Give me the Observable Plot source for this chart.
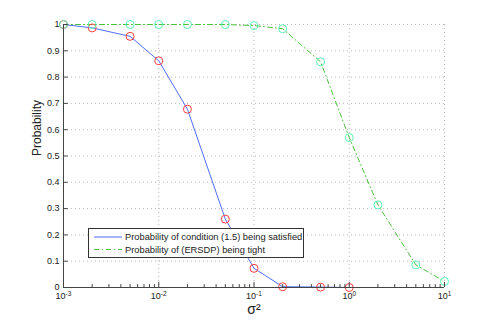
<!DOCTYPE html>
<html>
<head>
<meta charset="utf-8">
<script src="https://cdn.jsdelivr.net/npm/d3@7"></script>
<script src="https://cdn.jsdelivr.net/npm/@observablehq/plot@0.6"></script>
<style>
  html, body { margin: 0; padding: 0; background: #fff; }
  #chart svg { display: block; }
</style>
</head>
<body>
<div id="chart"></div>
<script>
// ---- data ----
const sigma2 = [0.001, 0.002, 0.005, 0.01, 0.02, 0.05, 0.1, 0.2, 0.5, 1, 2, 5, 10];
const conditionProb = [1, 0.987, 0.955, 0.862, 0.678, 0.26, 0.073, 0.003, 0.0015, 0]; // first 10 sigma2 values
const tightProb = [1, 1, 1, 1, 1, 1, 0.996, 0.984, 0.858, 0.57, 0.314, 0.086, 0.023];
const xTickExps = [-3, -2, -1, 0, 1];
const yTicks = [0, 0.1, 0.2, 0.3, 0.4, 0.5, 0.6, 0.7, 0.8, 0.9, 1];
const yTickLabels = ["0", "0.1", "0.2", "0.3", "0.4", "0.5", "0.6", "0.7", "0.8", "0.9", "1"];
const legendLabels = ["Probability of condition (1.5) being satisfied", "Probability of (ERSDP) being tight"];
const yLabel = "Probability";
const xLabel = "σ²";

const condData = conditionProb.map((p, i) => ({x: sigma2[i], y: p}));
const tightData = tightProb.map((p, i) => ({x: sigma2[i], y: p}));
const xMajor = xTickExps.map(e => Math.pow(10, e));
const xMinor = [];
for (let e = -3; e < 1; e++) for (let k = 2; k <= 9; k++) xMinor.push(k * Math.pow(10, e));

const blue = "#4f6dff", red = "#ff4040", green = "#4cbf3c", cyan = "#5cf2b4";
const axisColor = "#444", gridColor = "#b8b8b8";

const chart = Plot.plot({
  width: 491,
  height: 324,
  marginLeft: 63,
  marginRight: 47,
  marginTop: 24,
  marginBottom: 37,
  style: {fontFamily: "'Liberation Sans', Arial, Helvetica, sans-serif", fontSize: "9px", background: "#fff", color: "#222"},
  x: {type: "log", domain: [1e-3, 10], axis: null},
  y: {domain: [0, 1], axis: null},
  marks: [
    // dotted grid
    Plot.ruleX(xMajor, {stroke: gridColor, strokeDasharray: "1,3", strokeWidth: 1}),
    Plot.ruleY(yTicks, {stroke: gridColor, strokeDasharray: "1,3", strokeWidth: 1}),
    // data lines
    Plot.line(tightData, {x: "x", y: "y", stroke: green, strokeWidth: 1, strokeDasharray: "5,3,1,3"}),
    Plot.line(condData, {x: "x", y: "y", stroke: blue, strokeWidth: 1}),
    Plot.dot(condData, {x: "x", y: "y", r: 4, stroke: red, strokeWidth: 1, fill: "none"}),
    Plot.dot(tightData, {x: "x", y: "y", r: 4, stroke: cyan, strokeWidth: 1, fill: "none"}),
    // axis lines
    Plot.ruleY([0], {stroke: axisColor, strokeWidth: 1}),
    Plot.ruleX([1e-3], {stroke: axisColor, strokeWidth: 1}),
    // inward ticks
    Plot.ruleX(xMajor, {y1: 0, y2: 0.019, stroke: axisColor, strokeWidth: 1}),
    Plot.ruleX(xMinor, {y1: 0, y2: 0.011, stroke: axisColor, strokeWidth: 1}),
    Plot.ruleY(yTicks, {x1: 1e-3, x2: 1.12e-3, stroke: axisColor, strokeWidth: 1}),
    // tick labels
    Plot.axisX({ticks: xMajor, tickSize: 0, tickPadding: 5, tickFormat: d => "10|" + Math.round(Math.log10(d)), fontSize: 9, label: null}),
    Plot.axisY({ticks: yTicks, tickSize: 0, tickPadding: 4, tickFormat: d => yTickLabels[Math.round(d * 10)], fontSize: 9, label: null}),
    // axis titles
    Plot.text([yLabel], {frameAnchor: "left", rotate: -90, dx: -26, fontSize: 12, fill: "#222"}),
    Plot.text([xLabel], {frameAnchor: "bottom", dy: 26, fontSize: 14, fill: "#222"})
  ]
});

// superscript exponents on x tick labels
d3.select(chart).selectAll("g[aria-label='x-axis tick label'] text").each(function() {
  const t = d3.select(this);
  const parts = t.text().split("|");
  t.text(null);
  t.append("tspan").text(parts[0]);
  t.append("tspan").attr("dy", "-0.45em").attr("font-size", "6.5px").text(parts[1]);
});

// legend
const svg = d3.select(chart);
const lg = svg.append("g").attr("font-size", "9.3px").attr("text-anchor", "start");
lg.append("rect").attr("x", 88.5).attr("y", 228.5).attr("width", 215).attr("height", 29)
  .attr("fill", "#fff").attr("stroke", "#333").attr("stroke-width", 1);
const rows = [
  {label: legendLabels[0], stroke: blue, dash: null, y: 237},
  {label: legendLabels[1], stroke: green, dash: "5,3,1,3", y: 249.5}
];
rows.forEach(r => {
  lg.append("line").attr("x1", 94).attr("x2", 122).attr("y1", r.y).attr("y2", r.y)
    .attr("stroke", r.stroke).attr("stroke-width", 1).attr("stroke-dasharray", r.dash);
  lg.append("text").attr("x", 125).attr("y", r.y).attr("dy", "0.35em").attr("fill", "#222")
    .attr("text-anchor", "start").text(r.label);
});

document.getElementById("chart").appendChild(chart);
</script>
</body>
</html>
